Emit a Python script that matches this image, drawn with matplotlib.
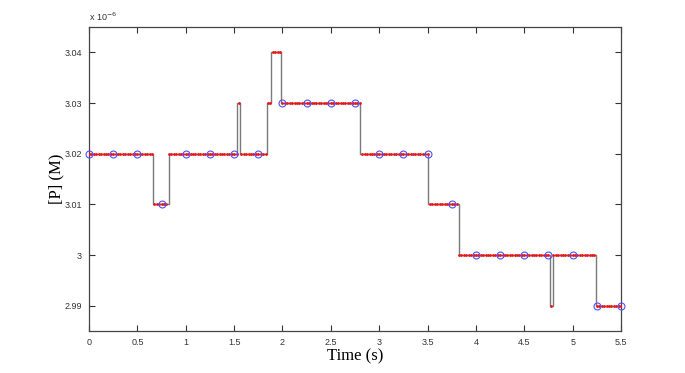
import numpy as np
import matplotlib
matplotlib.use("Agg")
import matplotlib.pyplot as plt

# step changes of [P] (units of 1e-6 M)
change_times = [0, 0.658, 0.824, 1.534, 1.565, 1.837, 1.886, 1.982,
                2.806, 3.505, 3.82, 4.762, 4.797, 5.243, 5.5]
levels = [3.02, 3.01, 3.02, 3.03, 3.02, 3.03, 3.04, 3.03,
          3.02, 3.01, 3.00, 2.99, 3.00, 2.99]

# sampling grids
fine_dt = 0.025
coarse_dt = 0.25
t_end = 5.5

xticks = [0, 0.5, 1, 1.5, 2, 2.5, 3, 3.5, 4, 4.5, 5, 5.5]
xticklabels = ['0', '0.5', '1', '1.5', '2', '2.5', '3', '3.5', '4', '4.5', '5', '5.5']
yticks = [2.99, 3.00, 3.01, 3.02, 3.03, 3.04]
yticklabels = ['2.99', '3', '3.01', '3.02', '3.03', '3.04']


def sample(t):
    idx = np.searchsorted(change_times, t, side='right') - 1
    idx = np.clip(idx, 0, len(levels) - 1)
    return np.array(levels)[idx]


t_fine = np.arange(0, t_end + 1e-9, fine_dt)
t_coarse = np.arange(0, t_end + 1e-9, coarse_dt)

plt.rcParams['font.family'] = ['Liberation Sans', 'DejaVu Sans']

fig = plt.figure(figsize=(6.85, 3.73), dpi=100)
ax = fig.add_axes([0.130, 0.1126, 0.7766, 0.815])

ax.step(change_times, levels + [levels[-1]], where='post',
        color='#7a7a7a', lw=1.0, zorder=2)
ax.plot(t_fine, sample(t_fine), ls='none', marker='.', ms=2.0,
        color='#e81818', zorder=3)
ax.plot(t_coarse, sample(t_coarse), ls='none', marker='o', ms=5,
        mfc='none', mec='#5050ff', mew=0.8, zorder=4, clip_on=False)

ax.set_xlim(0, 5.5)
ax.set_ylim(2.985, 3.045)
ax.set_xticks(xticks)
ax.set_xticklabels(xticklabels)
ax.set_yticks(yticks)
ax.set_yticklabels(yticklabels)

ax.tick_params(direction='in', length=4, width=0.8, top=True, right=True,
               labelsize=6.5, colors='#333333', pad=5)
for s in ax.spines.values():
    s.set_color('#444444')
    s.set_linewidth(0.9)

ax.set_xlabel('Time (s)', family='Liberation Serif', fontsize=12, labelpad=1)
ax.set_ylabel('[P] (M)', family='Liberation Serif', fontsize=12, labelpad=0)
ax.text(0, 1.012, r'x 10$^{-6}$', transform=ax.transAxes, fontsize=6.5,
        ha='left', va='bottom', color='#333333')

fig.savefig('out.png', dpi=100)
